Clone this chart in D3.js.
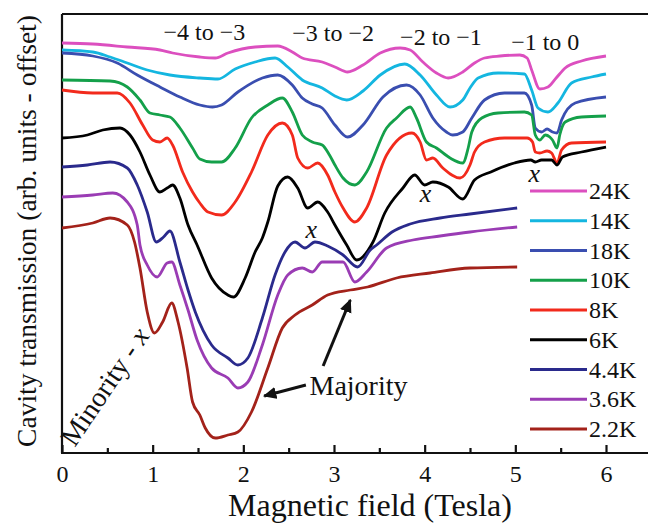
<!DOCTYPE html>
<html>
<head>
<meta charset="utf-8">
<script src="https://cdn.jsdelivr.net/npm/d3@7"></script>
<style>
  body { margin: 0; background: #fff; }
  svg { display: block; }
</style>
</head>
<body>
<svg id="chart" width="648" height="525"></svg>
<script>
// Cavity transmission vs magnetic field, offset per temperature.
// Each trace: [field (T), transmission (arb. units, offset)]
const temperatures = ["24K", "14K", "18K", "10K", "8K", "6K", "4.4K", "3.6K", "2.2K"];

const t24K = [[0,41.0],[0.34,40.9],[0.72,40.6],[1.08,40.3],[1.22,40.0],[1.52,39.6],[1.69,39.5],[1.83,40.0],[2.13,40.6],[2.38,40.7],[2.54,40.1],[2.65,39.5],[2.87,39.1],[3.01,38.6],[3.15,38.1],[3.32,38.8],[3.51,40.0],[3.73,40.5],[3.84,40.3],[3.98,39.1],[4.13,38.0],[4.26,37.5],[4.42,38.1],[4.55,39.0],[4.66,39.5],[4.83,39.7],[5.05,39.8],[5.13,39.5],[5.18,38.3],[5.27,36.4],[5.36,36.6],[5.45,37.5],[5.55,38.5],[5.73,39.2],[6.0,39.7]];
const t14K = [[0,40.3],[0.34,40.1],[0.53,39.6],[0.72,39.0],[0.94,38.3],[1.19,37.8],[1.52,37.5],[1.72,37.4],[1.91,38.4],[2.13,39.1],[2.35,39.5],[2.49,38.6],[2.65,37.3],[2.87,36.5],[3.01,35.7],[3.14,35.3],[3.32,36.2],[3.51,37.8],[3.78,38.9],[3.95,37.8],[4.13,35.8],[4.28,34.6],[4.42,35.3],[4.50,36.5],[4.59,37.5],[4.81,38.0],[5.10,37.9],[5.18,36.3],[5.25,34.5],[5.36,34.1],[5.47,35.0],[5.62,37.0],[5.84,37.6],[6.0,37.9]];
const t18K = [[0,40.0],[0.34,39.7],[0.61,39.0],[0.83,37.8],[1.08,36.6],[1.30,35.6],[1.52,34.8],[1.66,34.6],[1.76,34.8],[1.94,36.1],[2.21,37.5],[2.38,37.8],[2.54,36.8],[2.65,35.5],[2.76,34.9],[2.87,34.5],[3.01,32.8],[3.15,31.6],[3.32,32.8],[3.54,35.6],[3.80,36.8],[3.95,35.8],[4.09,33.5],[4.24,32.1],[4.31,31.8],[4.42,32.1],[4.52,33.5],[4.66,35.3],[4.88,36.0],[5.10,36.0],[5.18,34.8],[5.22,32.5],[5.29,32.1],[5.35,32.4],[5.41,32.1],[5.46,32.0],[5.51,33.3],[5.66,35.0],[6.0,35.6]];
const t10K = [[0,37.3],[0.53,37.2],[0.72,36.6],[0.86,35.3],[0.97,34.0],[1.08,33.8],[1.19,33.6],[1.30,32.5],[1.44,30.5],[1.52,29.4],[1.65,29.1],[1.76,29.1],[1.91,30.5],[2.09,33.5],[2.27,34.8],[2.43,35.5],[2.54,34.1],[2.65,31.8],[2.76,31.1],[2.87,30.8],[2.95,29.8],[3.01,28.8],[3.10,27.5],[3.23,26.8],[3.36,28.1],[3.58,32.5],[3.69,33.5],[3.84,34.6],[3.91,33.5],[4.02,31.1],[4.13,30.5],[4.28,29.5],[4.42,29.0],[4.48,30.5],[4.52,32.1],[4.63,33.5],[4.81,34.0],[5.10,34.1],[5.18,33.8],[5.22,31.8],[5.27,31.3],[5.33,31.8],[5.38,31.6],[5.41,31.3],[5.46,30.5],[5.49,31.8],[5.55,33.1],[5.73,33.6],[6.0,33.7]];
const t8K = [[0,36.3],[0.34,36.0],[0.61,36.0],[0.75,35.0],[0.89,32.8],[1.00,31.3],[1.08,31.1],[1.16,31.5],[1.22,30.8],[1.33,28.1],[1.44,26.1],[1.52,25.0],[1.61,24.1],[1.76,23.8],[1.91,25.1],[2.09,28.1],[2.27,31.8],[2.43,33.0],[2.54,31.8],[2.60,29.5],[2.71,28.5],[2.82,29.0],[2.93,27.8],[3.01,26.1],[3.10,24.5],[3.23,23.1],[3.36,24.5],[3.58,29.8],[3.86,32.0],[3.95,31.1],[4.02,29.3],[4.09,29.5],[4.20,28.5],[4.39,27.5],[4.50,28.8],[4.55,30.1],[4.66,31.1],[4.88,31.5],[5.13,31.5],[5.19,31.1],[5.22,30.1],[5.27,30.0],[5.35,30.2],[5.40,30.0],[5.46,29.0],[5.51,30.3],[5.62,31.0],[6.0,31.1]];
const t6K = [[0,31.5],[0.28,31.8],[0.45,32.3],[0.64,32.5],[0.75,31.8],[0.86,30.1],[0.97,27.8],[1.08,26.1],[1.16,26.5],[1.22,26.8],[1.30,25.5],[1.39,22.8],[1.49,20.8],[1.65,17.5],[1.83,15.8],[1.89,15.6],[2.02,17.5],[2.13,20.1],[2.21,21.5],[2.27,23.1],[2.38,26.7],[2.49,27.6],[2.60,26.5],[2.71,24.5],[2.82,25.1],[2.93,24.1],[3.01,22.8],[3.14,20.8],[3.25,19.3],[3.43,21.1],[3.56,24.0],[3.76,26.5],[3.89,27.8],[4.00,26.8],[4.09,27.1],[4.26,26.6],[4.42,25.4],[4.55,27.3],[4.73,28.1],[4.99,29.0],[5.17,29.3],[5.22,29.1],[5.29,29.3],[5.40,29.3],[5.46,28.8],[5.52,29.6],[5.73,30.1],[6.0,30.6]];
const t4_4K = [[0,28.6],[0.28,28.8],[0.53,29.1],[0.72,28.5],[0.83,26.8],[0.94,24.1],[1.04,21.1],[1.12,21.6],[1.19,22.2],[1.30,19.1],[1.39,16.3],[1.47,14.1],[1.65,10.8],[1.83,9.5],[1.94,8.8],[2.05,9.5],[2.21,13.5],[2.35,17.8],[2.46,20.1],[2.57,21.1],[2.68,20.5],[2.79,21.1],[2.93,20.7],[3.10,19.8],[3.26,18.6],[3.40,20.3],[3.47,20.8],[3.64,22.1],[3.84,22.9],[4.17,23.5],[4.50,23.9],[5.02,24.5]];
const t3_6K = [[0,25.6],[0.34,25.8],[0.56,26.0],[0.72,25.1],[0.83,22.8],[0.86,20.8],[0.94,18.8],[1.05,17.6],[1.16,19.0],[1.21,19.1],[1.30,16.8],[1.39,14.3],[1.49,11.3],[1.65,8.5],[1.83,7.5],[1.94,6.5],[2.05,7.1],[2.21,10.8],[2.38,15.8],[2.49,17.8],[2.65,18.5],[2.76,18.1],[2.87,19.1],[3.10,19.1],[3.23,17.1],[3.36,18.1],[3.58,20.5],[3.87,21.3],[4.17,21.7],[4.50,22.1],[5.02,22.6]];
const t2_2K = [[0,22.5],[0.34,23.0],[0.53,23.5],[0.72,22.8],[0.80,21.1],[0.86,18.5],[0.94,14.1],[1.02,12.0],[1.11,13.1],[1.21,15.0],[1.28,13.1],[1.38,8.5],[1.44,5.1],[1.52,3.8],[1.58,2.5],[1.69,1.5],[1.83,1.8],[1.94,2.1],[2.09,4.1],[2.27,8.5],[2.43,12.5],[2.57,13.8],[2.76,14.8],[2.93,15.8],[3.18,16.3],[3.37,16.6],[3.69,17.5],[4.06,18.0],[4.50,18.5],[5.02,18.6]];

const traces = [t24K, t14K, t18K, t10K, t8K, t6K, t4_4K, t3_6K, t2_2K];
const fieldTicks = [0, 1, 2, 3, 4, 5, 6];
const minorTicks = [0.5, 1.5, 2.5, 3.5, 4.5, 5.5];

// Landau-level transition labels and feature markers
const transitions = [
  { text: "\u22124 to \u22123", field: 1.57, level: 41.3 },
  { text: "\u22123 to \u22122", field: 2.99, level: 41.2 },
  { text: "\u22122 to \u22121", field: 4.18, level: 40.8 },
  { text: "\u22121 to 0",       field: 5.33, level: 40.3 }
];
const minorityMarks = [
  { field: 2.75, level: 21.5 },
  { field: 4.01, level: 25.1 },
  { field: 5.21, level: 27.1 }
];

const colors = ["#dc4fbf", "#14b6e0", "#3a4eb0", "#14a04a", "#f22a1c", "#000000", "#2a2a8c", "#9a3cb4", "#a3221a"];
const SERIF = "'Liberation Serif', 'DejaVu Serif', serif";
const INK = "#111";

const svg = d3.select("#chart");
const W = 648;
const x = d3.scaleLinear().domain([0, 6]).range([62, 606]);
const y = d3.scaleLinear().domain([0, 43.9]).range([453, 14]);

// Serif text helper: font set inline so nothing inherited overrides it
function serif(sel, size) {
  return sel.style("font-family", SERIF, "important")
    .style("font-size", size + "px")
    .attr("fill", INK);
}

// Frame: left and top edges
svg.append("line").attr("x1", x(0)).attr("x2", x(0)).attr("y1", y(43.9)).attr("y2", y(0))
  .attr("stroke", INK).attr("stroke-width", 2.2);
svg.append("line").attr("x1", x(0)).attr("x2", W).attr("y1", y(43.9)).attr("y2", y(43.9))
  .attr("stroke", INK).attr("stroke-width", 2.2);

// Bottom axis with inward ticks
const axisG = svg.append("g").attr("transform", `translate(0,${y(0)})`);
axisG.call(d3.axisBottom(x).tickValues(fieldTicks).tickSize(-8).tickPadding(12).tickFormat(d3.format("d")));
axisG.append("g").call(d3.axisBottom(x).tickValues(minorTicks).tickSize(-5).tickFormat(""))
  .select(".domain").remove();
axisG.select(".domain").remove();
axisG.attr("font-family", null).attr("font-size", null);
axisG.selectAll(".tick line").attr("stroke", INK).attr("stroke-width", 2.2);
serif(axisG.selectAll(".tick text"), 24);
svg.append("line").attr("x1", x(0) - 1).attr("x2", W).attr("y1", y(0)).attr("y2", y(0))
  .attr("stroke", INK).attr("stroke-width", 2.2);

// Traces
const line = d3.line().x(d => x(d[0])).y(d => y(d[1])).curve(d3.curveMonotoneX);
svg.append("g").selectAll("path").data(traces).join("path")
  .attr("d", line)
  .attr("fill", "none")
  .attr("stroke", (d, i) => colors[i])
  .attr("stroke-width", 2.8)
  .attr("stroke-linejoin", "round");

// Legend
const legend = svg.append("g");
temperatures.forEach((t, i) => {
  const ly = 191 + i * 29.75;
  legend.append("line").attr("x1", 530).attr("x2", 587).attr("y1", ly).attr("y2", ly)
    .attr("stroke", colors[i]).attr("stroke-width", 3);
  serif(legend.append("text").attr("x", 589).attr("y", ly + 8), 24).text(t);
});

// Transition labels
serif(svg.append("g").selectAll("text").data(transitions).join("text")
  .attr("x", d => x(d.field)).attr("y", d => y(d.level))
  .attr("text-anchor", "middle"), 24)
  .text(d => d.text);

serif(svg.append("g").selectAll("text").data(minorityMarks).join("text")
  .attr("x", d => x(d.field)).attr("y", d => y(d.level))
  .attr("text-anchor", "middle"), 26)
  .style("font-style", "italic")
  .text("x");

// Minority label along the diagonal
const minority = serif(svg.append("text")
  .attr("transform", `translate(${x(0.14)},${y(0.5)}) rotate(-56)`), 28);
minority.append("tspan").text("Minority - ");
minority.append("tspan").style("font-style", "italic").text("x");

// Majority label with arrows
serif(svg.append("text").attr("x", x(2.73)).attr("y", y(5.8)), 28).text("Majority");
const defs = svg.append("defs");
defs.append("marker").attr("id", "head").attr("viewBox", "0 0 10 10")
  .attr("refX", 9).attr("refY", 5).attr("markerWidth", 4.5).attr("markerHeight", 4.5)
  .attr("orient", "auto")
  .append("path").attr("d", "M0,0.5 L10,5 L0,9.5 Z").attr("fill", INK);
const arrows = [
  { from: [2.69, 6.8], to: [2.23, 5.7] },
  { from: [2.88, 8.7], to: [3.18, 15.3] }
];
svg.append("g").selectAll("line").data(arrows).join("line")
  .attr("x1", d => x(d.from[0])).attr("y1", d => y(d.from[1]))
  .attr("x2", d => x(d.to[0])).attr("y2", d => y(d.to[1]))
  .attr("stroke", INK).attr("stroke-width", 3).attr("marker-end", "url(#head)");

// Axis titles
serif(svg.append("text")
  .attr("transform", "translate(36,231) rotate(-90)")
  .attr("text-anchor", "middle"), 27.5)
  .text("Cavity transmission (arb. units - offset)");

serif(svg.append("text").attr("x", 370).attr("y", 516)
  .attr("text-anchor", "middle"), 32)
  .text("Magnetic field (Tesla)");
</script>
</body>
</html>
